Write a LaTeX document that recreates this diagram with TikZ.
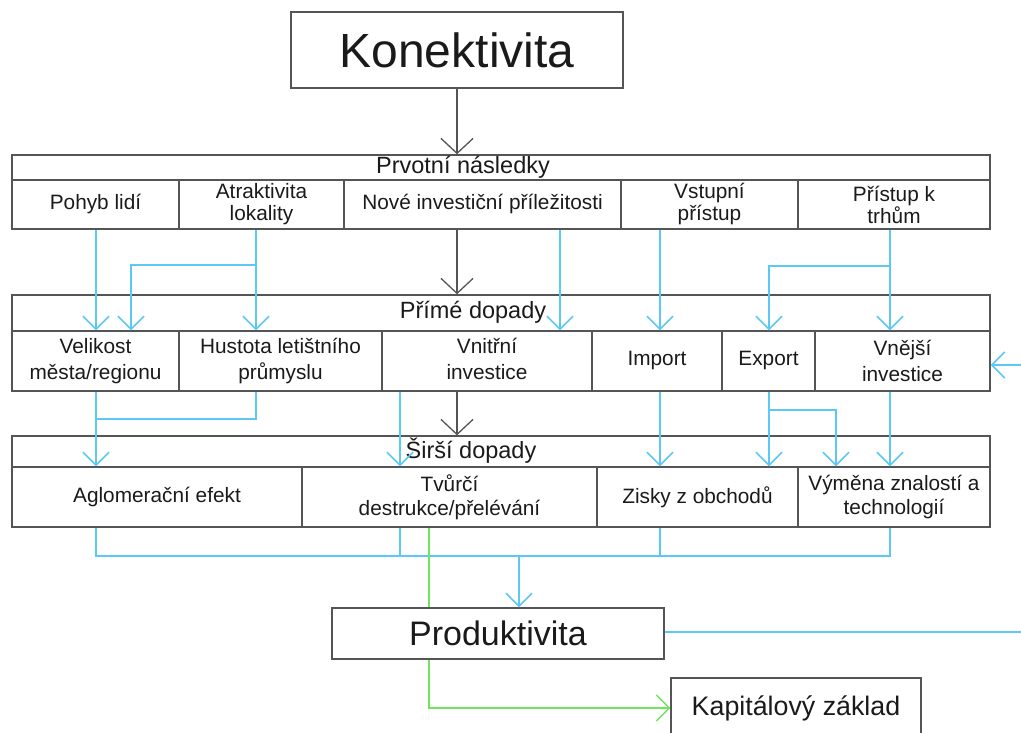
\documentclass[tikz,border=0pt]{standalone}
\usepackage{fontspec}
\setmainfont{Liberation Sans}
\usetikzlibrary{arrows.meta}
\definecolor{framegray}{HTML}{555555}
\definecolor{ink}{HTML}{1A1A1A}
\definecolor{linkblue}{HTML}{5CC8F5}
\definecolor{linkgreen}{HTML}{6EE65A}
\begin{document}
\begin{tikzpicture}[x=1pt,y=-1pt,
  box/.style={draw=framegray, line width=1.4pt, inner sep=0pt, align=center, text=ink},
  rowa/.style={box, minimum height=49pt, font=\fontsize{20.8}{22}\selectfont},
  rowb/.style={box, minimum height=60pt, font=\fontsize{20.8}{26}\selectfont},
  rowc/.style={box, minimum height=60pt, font=\fontsize{20.8}{24}\selectfont},
  head/.style={box, minimum width=978pt},
  headtext/.style={inner sep=0pt, text=ink, font=\fontsize{23.5}{25}\selectfont},
  darr/.style={draw=framegray, line width=1.3pt, -{Straight Barb[length=15pt,width=32pt]}},
  barr/.style={draw=linkblue, line width=1.5pt, -{Straight Barb[length=13pt,width=26pt]}},
  bline/.style={draw=linkblue, line width=1.5pt},
  garr/.style={draw=linkgreen, line width=1.3pt, -{Straight Barb[length=13pt,width=26pt]}},
  gline/.style={draw=linkgreen, line width=1.3pt}
]
\useasboundingbox (0,0) rectangle (1021,733);

% top node
\node[box, minimum width=332pt, minimum height=76pt, font=\fontsize{48}{50}\selectfont] (kon) at (457,50) {Konektivita};

% primary consequences
\node[head, minimum height=25pt] (h1) at (501,167.5) {};
\node[headtext] (h1t) at (463,167) {Prvotní následky};
\node[rowa, minimum width=167pt] (c11) at (95.5,204.5) {Pohyb lidí};
\node[rowa, minimum width=165pt] (c12) at (261.5,204.5) {Atraktivita\\lokality};
\node[rowa, minimum width=277pt] (c13) at (482.5,204.5) {Nové investiční příležitosti};
\node[rowa, minimum width=177pt] (c14) at (709.5,204.5) {Vstupní\\přístup};
\node[rowa, minimum width=192pt] (c15) at (894,204.5) {Přístup k\\trhům};

% direct impacts
\node[head, minimum height=36pt] (h2) at (501,313) {};
\node[headtext] (h2t) at (473,312) {Přímé dopady};
\node[rowb, minimum width=167pt] (c21) at (95.5,361) {Velikost\\města/regionu};
\node[rowb, minimum width=203pt] (c22) at (280.5,361) {Hustota letištního\\průmyslu};
\node[rowb, minimum width=210pt] (c23) at (487,361) {\raisebox{-8pt}{\begin{tabular}{@{}c@{}}Vnitřní\\investice\end{tabular}}};
\node[rowb, minimum width=130pt] (c24) at (657,361) {Import};
\node[rowb, minimum width=93pt] (c25) at (768.5,361) {Export};
\node[rowb, minimum width=175pt] (c26) at (902.5,361) {Vnější\\investice};

% wider impacts
\node[head, minimum height=31pt] (h3) at (501,451.5) {};
\node[headtext] (h3t) at (471,451) {Širší dopady};
\node[rowc, minimum width=290pt] (c31) at (157,497) {Aglomerační efekt};
\node[rowc, minimum width=295pt] (c32) at (449.5,497) {Tvůrčí\\destrukce/přelévání};
\node[rowc, minimum width=201pt] (c33) at (697.5,497) {Zisky z obchodů};
\node[rowc, minimum width=192pt] (c34) at (894,497) {Výměna znalostí a\\technologií};

% outcomes
\node[box, minimum width=332pt, minimum height=51pt, font=\fontsize{34}{36}\selectfont] (prod) at (498,633.5) {Produktivita};
\node[box, minimum width=250pt, minimum height=60pt, font=\fontsize{26.8}{28}\selectfont] (kap) at (796,708) {Kapitálový základ};

% free ends and junctions
\coordinate (inR) at (1021,365);
\coordinate (outR) at (1021,632);
\coordinate (bus) at (519,556);

% main flow
\draw[darr] (kon.south) -- (kon.south |- h1.north);
\draw[darr] (c13.south -| kon.south) -- (h2.north -| kon.south);
\draw[darr] (c23.south -| kon.south) -- (h3.north -| kon.south);

% primary -> direct
\draw[barr] ([xshift=0.5pt]c11.south) -- ([xshift=0.5pt]c11.south |- c21.north);
\draw[barr] ([xshift=-5.5pt]c12.south) -- ([xshift=-5.5pt]c12.south |- c22.north);
\draw[barr] ([xshift=-5.5pt]c12.south |- 0,265) -| ([xshift=35.5pt]c21.north);
\draw[barr] ([xshift=77.5pt]c13.south) -- ([xshift=77.5pt]c13.south |- c23.north);
\draw[barr] ([xshift=-49.5pt]c14.south) -- ([xshift=-49.5pt]c14.south |- c24.north);
\draw[barr] ([xshift=-4pt]c15.south) -- ([xshift=-4pt]c15.south |- c26.north);
\draw[barr] ([xshift=-4pt]c15.south |- 0,266) -| ([xshift=0.5pt]c25.north);
\draw[barr] (inR) -- (inR -| c26.east);

% direct -> wider
\draw[barr] ([xshift=0.5pt]c21.south) -- ([xshift=0.5pt]c21.south |- c31.north);
\draw[bline] ([xshift=-24.5pt]c22.south) |- ([xshift=0.5pt]c21.south |- 0,419);
\draw[barr] ([xshift=-87pt]c23.south) -- ([xshift=-87pt]c23.south |- c32.north);
\draw[barr] ([xshift=3pt]c24.south) -- ([xshift=3pt]c24.south |- c33.north);
\draw[barr] ([xshift=0.5pt]c25.south) -- ([xshift=0.5pt]c25.south |- c33.north);
\draw[barr] ([xshift=0.5pt]c25.south |- 0,410) -| ([xshift=-58pt]c34.north);
\draw[barr] ([xshift=-12.5pt]c26.south) -- ([xshift=-12.5pt]c26.south |- c34.north);

% wider -> productivity
\draw[bline] ([xshift=-61pt]c31.south) |- (bus) -| ([xshift=-4pt]c34.south);
\draw[bline] ([xshift=-49.5pt]c32.south) -- ([xshift=-49.5pt]c32.south |- bus);
\draw[bline] ([xshift=-37.5pt]c33.south) -- ([xshift=-37.5pt]c33.south |- bus);
\draw[barr] (bus) -- (bus |- prod.north);
\draw[gline] ([xshift=-20.5pt]c32.south) -- ([xshift=-20.5pt]c32.south |- prod.north);

% productivity -> capital base and feedback
\draw[garr] ([xshift=-69pt]prod.south) |- (kap.west);
\draw[bline] (prod.east |- outR) -- (outR);
\end{tikzpicture}
\end{document}
